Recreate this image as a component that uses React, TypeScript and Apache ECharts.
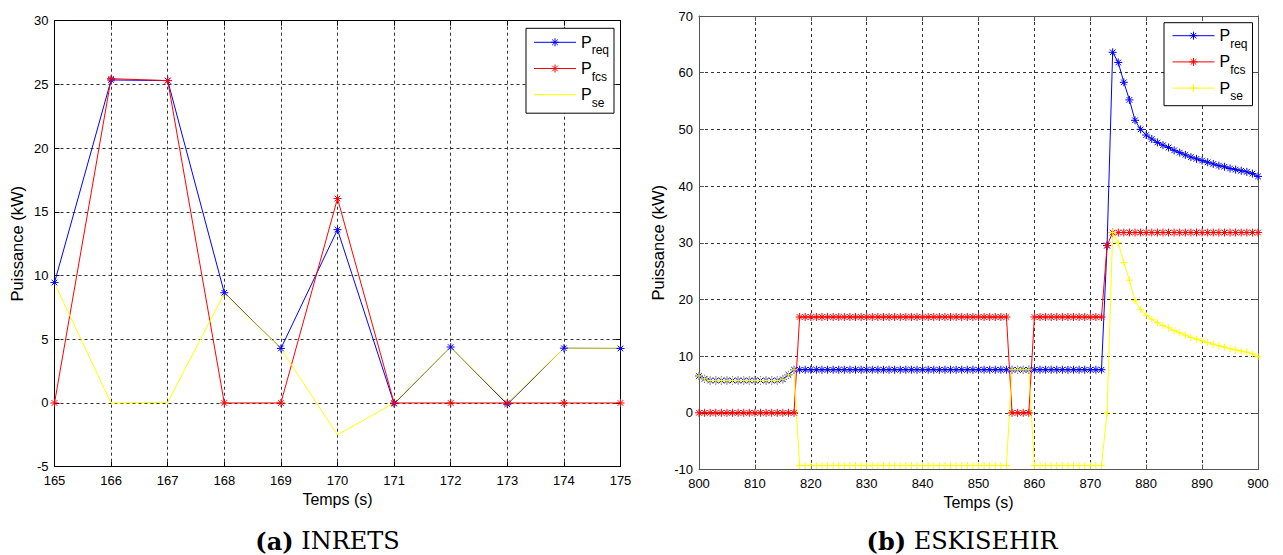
import React, { useEffect, useRef } from 'react';
import * as echarts from 'echarts';

// ---------- (a) INRETS ----------
const timeA = [165, 166, 167, 168, 169, 170, 171, 172, 173, 174, 175];
const preqA = [9.45, 25.35, 25.3, 8.65, 4.28, 13.6, -0.05, 4.39, -0.1, 4.3, 4.28];
const pfcsA = [0, 25.45, 25.3, 0, 0, 16.05, 0, 0, 0, 0, 0];
const pseA = [9.4, 0, 0.05, 8.6, 4.25, -2.5, 0, 4.39, 0, 4.3, 4.3];

// ---------- (b) ESKISEHIR ----------
const timeB = [
  800, 801, 802, 803, 804, 805, 806, 807, 808, 809,
  810, 811, 812, 813, 814, 815, 816, 817, 818, 819,
  820, 821, 822, 823, 824, 825, 826, 827, 828, 829,
  830, 831, 832, 833, 834, 835, 836, 837, 838, 839,
  840, 841, 842, 843, 844, 845, 846, 847, 848, 849,
  850, 851, 852, 853, 854, 855, 856, 857, 858, 859,
  860, 861, 862, 863, 864, 865, 866, 867, 868, 869,
  870, 871, 872, 873, 874, 875, 876, 877, 878, 879,
  880, 881, 882, 883, 884, 885, 886, 887, 888, 889,
  890, 891, 892, 893, 894, 895, 896, 897, 898, 899,
  900,
];
const preqB = [
  6.5, 6.0,
  5.7, 5.7, 5.7, 5.7, 5.7, 5.7, 5.7, 5.7, 5.7, 5.7, 5.7, 5.7, 5.7,
  5.9, 6.7, 7.6,
  7.6, 7.6, 7.6, 7.6, 7.6, 7.6, 7.6, 7.6, 7.6, 7.6,
  7.6, 7.6, 7.6, 7.6, 7.6, 7.6, 7.6, 7.6, 7.6, 7.6,
  7.6, 7.6, 7.6, 7.6, 7.6, 7.6, 7.6, 7.6, 7.6, 7.6,
  7.6, 7.6, 7.6, 7.6, 7.6, 7.6, 7.6, 7.6, 7.6, 7.6,
  7.6, 7.6, 7.6, 7.6, 7.6, 7.6, 7.6, 7.6, 7.6, 7.6,
  7.6, 7.6, 7.6, 7.6, 7.6,
  29.5,
  63.6, 61.8, 58.3, 55.2, 51.6, 50.0, 49.0, 48.3, 47.7, 47.2,
  46.8, 46.3, 45.9, 45.5, 45.1, 44.8, 44.5, 44.2, 43.9, 43.6,
  43.4, 43.1, 42.9, 42.7, 42.5, 42.2, 41.7,
];
const pfcsB = [
  0, 0, 0, 0, 0, 0, 0, 0, 0, 0, 0, 0, 0, 0, 0, 0, 0, 0,
  16.9, 16.9, 16.9, 16.9, 16.9, 16.9, 16.9, 16.9, 16.9, 16.9,
  16.9, 16.9, 16.9, 16.9, 16.9, 16.9, 16.9, 16.9, 16.9, 16.9,
  16.9, 16.9, 16.9, 16.9, 16.9, 16.9, 16.9, 16.9, 16.9, 16.9,
  16.9, 16.9, 16.9, 16.9, 16.9, 16.9, 16.9, 16.9,
  0, 0, 0, 0,
  16.9, 16.9, 16.9, 16.9, 16.9, 16.9, 16.9, 16.9, 16.9, 16.9,
  16.9, 16.9, 16.9,
  29.5,
  31.8, 31.8, 31.8, 31.8, 31.8, 31.8, 31.8, 31.8, 31.8, 31.8,
  31.8, 31.8, 31.8, 31.8, 31.8, 31.8, 31.8, 31.8, 31.8, 31.8,
  31.8, 31.8, 31.8, 31.8, 31.8, 31.8, 31.8,
];
const pseB = [
  6.5, 6.0,
  5.7, 5.7, 5.7, 5.7, 5.7, 5.7, 5.7, 5.7, 5.7, 5.7, 5.7, 5.7, 5.7,
  5.9, 6.7, 7.6,
  -9.3, -9.3, -9.3, -9.3, -9.3, -9.3, -9.3, -9.3, -9.3, -9.3,
  -9.3, -9.3, -9.3, -9.3, -9.3, -9.3, -9.3, -9.3, -9.3, -9.3,
  -9.3, -9.3, -9.3, -9.3, -9.3, -9.3, -9.3, -9.3, -9.3, -9.3,
  -9.3, -9.3, -9.3, -9.3, -9.3, -9.3, -9.3, -9.3,
  7.6, 7.6, 7.6, 7.6,
  -9.3, -9.3, -9.3, -9.3, -9.3, -9.3, -9.3, -9.3, -9.3, -9.3,
  -9.3, -9.3, -9.3,
  0,
  31.8, 30.0, 26.5, 23.4, 19.8, 18.2, 17.2, 16.5, 15.9, 15.4,
  15.0, 14.5, 14.1, 13.7, 13.3, 13.0, 12.7, 12.4, 12.1, 11.8,
  11.6, 11.3, 11.1, 10.9, 10.7, 10.4, 9.9,
];

const subNames: Record<string, string> = { Preq: 'req', Pfcs: 'fcs', Pse: 'se' };

const STAR = 'path://M5,0L5,10M0,5L10,5M1.5,1.5L8.5,8.5M1.5,8.5L8.5,1.5';
const PLUS = 'path://M5,0L5,10M0,5L10,5';
const BLUE = '#0000ff';
const RED = '#ff0000';
const YELLOW = '#ffff00';
const SANS = 'Liberation Sans';

function pairs(t: number[], v: number[]) {
  return t.map((x, i) => [x, v[i]]);
}

function xAxes(grid: number, min: number, max: number, interval: number, frame: string, nameGap: number) {
  const common = {
    gridIndex: grid,
    type: 'value',
    min,
    max,
    interval,
    axisLine: { show: true, onZero: false, lineStyle: { color: frame, width: 1 } },
    axisTick: { show: true, inside: true, length: 5, lineStyle: { color: frame, width: 1 } },
  };
  return [
    {
      ...common,
      position: 'bottom',
      axisLabel: { show: true, margin: 7, fontSize: 13, fontFamily: SANS, color: '#000' },
      splitLine: { show: true, lineStyle: { type: [3, 3], color: '#333', width: 1 } },
      name: 'Temps (s)',
      nameLocation: 'middle',
      nameGap,
      nameTextStyle: { fontSize: 16, fontFamily: SANS, color: '#000' },
    },
    {
      ...common,
      position: 'top',
      axisLabel: { show: false },
      splitLine: { show: false },
    },
  ];
}

function yAxes(grid: number, min: number, max: number, interval: number, frame: string, nameGap: number) {
  const common = {
    gridIndex: grid,
    type: 'value',
    min,
    max,
    interval,
    axisLine: { show: true, onZero: false, lineStyle: { color: frame, width: 1 } },
    axisTick: { show: true, inside: true, length: 5, lineStyle: { color: frame, width: 1 } },
  };
  return [
    {
      ...common,
      position: 'left',
      axisLabel: { show: true, margin: 6, fontSize: 13, fontFamily: SANS, color: '#000' },
      splitLine: { show: true, lineStyle: { type: [3, 3], color: '#333', width: 1 } },
      name: 'Puissance (kW)',
      nameLocation: 'middle',
      nameGap,
      nameTextStyle: { fontSize: 16.5, fontFamily: SANS, color: '#000' },
    },
    {
      ...common,
      position: 'right',
      axisLabel: { show: false },
      splitLine: { show: false },
    },
  ];
}

function lineSeries(name: string, axis: number, data: number[][], color: string, symbol: string | null, size: number) {
  return {
    type: 'line',
    name,
    xAxisIndex: axis,
    yAxisIndex: axis,
    data,
    symbol: symbol || 'none',
    symbolSize: size,
    showSymbol: !!symbol,
    lineStyle: { color, width: 1 },
    itemStyle: symbol
      ? { color, borderColor: color, borderWidth: 1 }
      : { color: 'rgba(0,0,0,0)', borderColor: 'rgba(0,0,0,0)', borderWidth: 0 },
    emphasis: { disabled: true },
    silent: true,
  };
}

function legend(names: string[], left: number, top: number, padding: number[]) {
  return {
    orient: 'vertical',
    left,
    top,
    data: names,
    padding,
    itemGap: 4.2,
    itemWidth: 42,
    itemHeight: 10,
    borderColor: '#000',
    borderWidth: 1,
    backgroundColor: '#fff',
    borderRadius: 0,
    selectedMode: false,
    itemStyle: { borderWidth: 1 },
    lineStyle: { width: 1 },
    formatter: (n: string) => `{p|P}{s|${subNames[n.split(':')[1]]}}`,
    textStyle: {
      fontFamily: SANS,
      color: '#000',
      rich: {
        p: { fontSize: 16, lineHeight: 16, verticalAlign: 'top', fontFamily: SANS, color: '#000' },
        s: { fontSize: 12, lineHeight: 12, verticalAlign: 'top', padding: [10, 0, 0, 0], fontFamily: SANS, color: '#000' },
      },
    },
  };
}

function caption(text: string, x: number) {
  return {
    type: 'text',
    x,
    y: 541,
    style: {
      text,
      align: 'center',
      verticalAlign: 'middle',
      fontSize: 24,
      lineHeight: 24,
      fontFamily: 'DejaVu Serif',
      fill: '#000',
      rich: { b: { fontWeight: 'bold', fontSize: 24, lineHeight: 24, fontFamily: 'DejaVu Serif', fill: '#000' } },
    },
  };
}

export default function App() {
  const ref = useRef<HTMLDivElement>(null);
  useEffect(() => {
    if (!ref.current) return;
    const chart = echarts.init(ref.current, null, { renderer: 'svg' });
    chart.setOption({
      animation: false,
      backgroundColor: '#fff',
      grid: [
        { left: 54.5, top: 20.7, width: 566, height: 446 },
        { left: 699, top: 16, width: 559, height: 453.5 },
      ],
      xAxis: [...xAxes(0, 165, 175, 1, '#000', 25), ...xAxes(1, 800, 900, 10, '#555', 23)],
      yAxis: [...yAxes(0, -5, 30, 5, '#000', 29), ...yAxes(1, -10, 70, 10, '#555', 33)],
      legend: [
        legend(['a:Preq', 'a:Pfcs', 'a:Pse'], 526, 28.3, [6, 5, 4.5, 7.5]),
        legend(['b:Preq', 'b:Pfcs', 'b:Pse'], 1164, 22.7, [5, 5, 3.6, 8]),
      ],
      series: [
        lineSeries('a:Preq', 0, pairs(timeA, preqA), BLUE, STAR, 8),
        lineSeries('a:Pfcs', 0, pairs(timeA, pfcsA), RED, STAR, 8),
        lineSeries('a:Pse', 0, pairs(timeA, pseA), YELLOW, null, 8),
        lineSeries('b:Preq', 2, pairs(timeB, preqB), BLUE, STAR, 8),
        lineSeries('b:Pfcs', 2, pairs(timeB, pfcsB), RED, STAR, 8),
        lineSeries('b:Pse', 2, pairs(timeB, pseB), YELLOW, PLUS, 7),
      ],
      graphic: [caption('{b|(a)} INRETS', 327.5), caption('{b|(b)} ESKISEHIR', 962)],
    });
    return () => chart.dispose();
  }, []);
  return (
    <div
      ref={ref}
      style={{ position: 'absolute', left: 0, top: 0, width: 1283, height: 555, background: '#fff' }}
    />
  );
}
